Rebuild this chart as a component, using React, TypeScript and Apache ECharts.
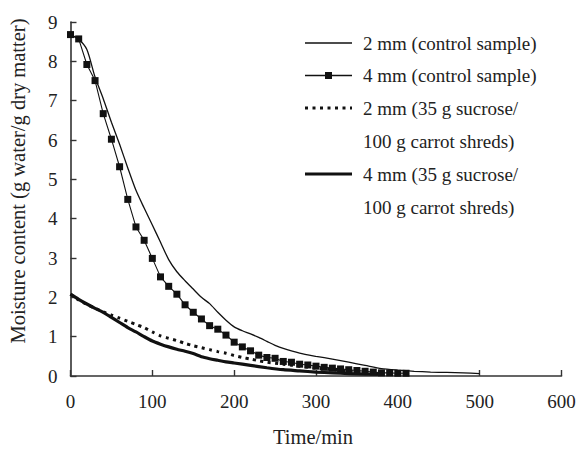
import React, { useEffect, useRef } from "react";
import * as echarts from "echarts";

const xTicks = [0, 100, 200, 300, 400, 500, 600];
const yTicks = [0, 1, 2, 3, 4, 5, 6, 7, 8, 9];

const control2mm: [number, number][] = [
  [0, 8.68], [10, 8.56], [20, 8.3], [30, 7.6], [40, 7.05], [50, 6.45], [60, 5.89],
  [70, 5.29], [80, 4.72], [90, 4.27], [100, 3.84], [110, 3.4], [120, 2.96], [130, 2.65],
  [140, 2.42], [150, 2.21], [160, 2.0], [170, 1.84], [180, 1.62], [190, 1.42], [200, 1.25],
  [210, 1.15], [220, 1.07], [230, 0.98], [240, 0.88], [250, 0.78], [260, 0.7], [280, 0.58],
  [300, 0.5], [320, 0.43], [340, 0.35], [360, 0.27], [380, 0.19], [400, 0.15], [420, 0.12],
  [440, 0.1], [460, 0.09], [480, 0.08], [500, 0.06],
];

const control4mm: [number, number][] = [
  [0, 8.68], [10, 8.57], [20, 7.92], [30, 7.51], [40, 6.67], [50, 6.02], [60, 5.32],
  [70, 4.49], [80, 3.79], [90, 3.45], [100, 2.99], [110, 2.52], [120, 2.28], [130, 2.08],
  [140, 1.81], [150, 1.62], [160, 1.45], [170, 1.28], [180, 1.19], [190, 1.04], [200, 0.86],
  [210, 0.74], [220, 0.64], [230, 0.53], [240, 0.47], [250, 0.45], [260, 0.37], [270, 0.35],
  [280, 0.3], [290, 0.28], [300, 0.25], [310, 0.22], [320, 0.2], [330, 0.18], [340, 0.16],
  [350, 0.14], [360, 0.12], [370, 0.1], [380, 0.08], [390, 0.08], [400, 0.07], [410, 0.07],
];

const sucrose2mm: [number, number][] = [
  [0, 2.08], [10, 1.93], [20, 1.82], [30, 1.72], [40, 1.63], [50, 1.55], [60, 1.47],
  [70, 1.39], [80, 1.31], [90, 1.23], [100, 1.12], [110, 1.02], [120, 0.96], [130, 0.9],
  [140, 0.83], [150, 0.77], [160, 0.72], [170, 0.67], [180, 0.62], [190, 0.58], [200, 0.52],
  [210, 0.47], [220, 0.43], [230, 0.39], [240, 0.35], [260, 0.3], [280, 0.25], [300, 0.2],
  [320, 0.16], [340, 0.12], [360, 0.09], [380, 0.06], [400, 0.04],
];

const sucrose4mm: [number, number][] = [
  [0, 2.08], [10, 1.95], [20, 1.83], [30, 1.72], [40, 1.62], [50, 1.49], [60, 1.36],
  [70, 1.23], [80, 1.12], [90, 1.0], [100, 0.89], [110, 0.81], [120, 0.74], [130, 0.68],
  [140, 0.63], [150, 0.57], [160, 0.49], [170, 0.44], [180, 0.4], [190, 0.36], [200, 0.33],
  [220, 0.27], [240, 0.21], [260, 0.16], [280, 0.13], [300, 0.1], [320, 0.08], [340, 0.06],
  [360, 0.05], [380, 0.04],
];

const legendLabels = [
  "2 mm (control sample)",
  "4 mm (control sample)",
  "2 mm (35 g sucrose/\n100 g carrot shreds)",
  "4 mm (35 g sucrose/\n100 g carrot shreds)",
];

const xTitle = "Time/min";
const yTitle = "Moisture content (g water/g dry matter)";

const FONT = "'Liberation Serif', 'Times New Roman', serif";
const INK = "#111";
const AXIS = "#333";

export default function App() {
  const ref = useRef<HTMLDivElement>(null);

  useEffect(() => {
    if (!ref.current) return;
    const chart = echarts.init(ref.current, undefined, { renderer: "svg" });

    const legendRowsY = [43, 75.5, 108, 174];
    const lx0 = 305;
    const lx1 = 352;
    const tx = 363;
    const textStyle = { fontFamily: FONT, fontSize: 19, fill: "#222", lineHeight: 33 };
    const legendGraphics: any[] = [];
    legendGraphics.push({ type: "line", shape: { x1: lx0, y1: legendRowsY[0], x2: lx1, y2: legendRowsY[0] }, style: { stroke: INK, lineWidth: 1.3 } });
    legendGraphics.push({ type: "line", shape: { x1: lx0, y1: legendRowsY[1], x2: lx1, y2: legendRowsY[1] }, style: { stroke: INK, lineWidth: 1.3 } });
    legendGraphics.push({ type: "rect", shape: { x: (lx0 + lx1) / 2 - 3.5, y: legendRowsY[1] - 3.5, width: 7, height: 7 }, style: { fill: INK } });
    legendGraphics.push({ type: "line", shape: { x1: lx0, y1: legendRowsY[2], x2: lx1, y2: legendRowsY[2] }, style: { stroke: INK, lineWidth: 3, lineDash: [3, 4.5] } });
    legendGraphics.push({ type: "line", shape: { x1: lx0, y1: legendRowsY[3], x2: lx1, y2: legendRowsY[3] }, style: { stroke: INK, lineWidth: 3.2 } });
    legendLabels.forEach((label, i) => {
      legendGraphics.push({
        type: "text",
        x: tx,
        y: legendRowsY[i] - 16.5,
        style: { ...textStyle, text: label, textAlign: "left", textVerticalAlign: "top" },
      });
    });

    chart.setOption({
      animation: false,
      backgroundColor: "#fff",
      grid: { left: 70.5, right: 17.5, top: 22, bottom: 73, containLabel: false },
      xAxis: {
        type: "value",
        min: xTicks[0],
        max: xTicks[xTicks.length - 1],
        interval: 100,
        axisLine: { show: true, lineStyle: { color: AXIS, width: 1.6 } },
        axisTick: { show: true, inside: true, length: 6, lineStyle: { color: AXIS, width: 1.4 } },
        axisLabel: { color: "#222", fontFamily: FONT, fontSize: 19, margin: 16 },
        splitLine: { show: false },
      },
      yAxis: {
        type: "value",
        min: yTicks[0],
        max: yTicks[yTicks.length - 1],
        interval: 1,
        axisLine: { show: true, lineStyle: { color: AXIS, width: 1.6 } },
        axisTick: { show: true, inside: true, length: 6, lineStyle: { color: AXIS, width: 1.4 } },
        axisLabel: { color: "#222", fontFamily: FONT, fontSize: 19, margin: 13 },
        splitLine: { show: false },
      },
      series: [
        {
          name: "2 mm (control sample)",
          type: "line",
          data: control2mm,
          symbol: "none",
          smooth: 0.25,
          lineStyle: { color: INK, width: 1.3 },
        },
        {
          name: "4 mm (control sample)",
          type: "line",
          data: control4mm,
          symbol: "rect",
          symbolSize: 7,
          itemStyle: { color: INK },
          lineStyle: { color: INK, width: 1.1 },
        },
        {
          name: "2 mm (35 g sucrose/100 g carrot shreds)",
          type: "line",
          data: sucrose2mm,
          symbol: "none",
          smooth: 0.25,
          lineStyle: { color: INK, width: 3, type: [3, 4.5] },
        },
        {
          name: "4 mm (35 g sucrose/100 g carrot shreds)",
          type: "line",
          data: sucrose4mm,
          symbol: "none",
          smooth: 0.25,
          lineStyle: { color: INK, width: 3.2 },
        },
      ],
      graphic: [
        {
          type: "text",
          x: 18,
          y: 181,
          rotation: Math.PI / 2,
          style: { text: yTitle, fontFamily: FONT, fontSize: 20.5, fill: "#222", textAlign: "center", textVerticalAlign: "middle" },
        },
        {
          type: "text",
          x: 313,
          y: 437,
          style: { text: xTitle, fontFamily: FONT, fontSize: 20.5, fill: "#222", textAlign: "center", textVerticalAlign: "middle" },
        },
        ...legendGraphics,
      ],
    });

    return () => chart.dispose();
  }, []);

  return <div ref={ref} style={{ width: 579, height: 449, position: "absolute", left: 0, top: 0 }} />;
}
